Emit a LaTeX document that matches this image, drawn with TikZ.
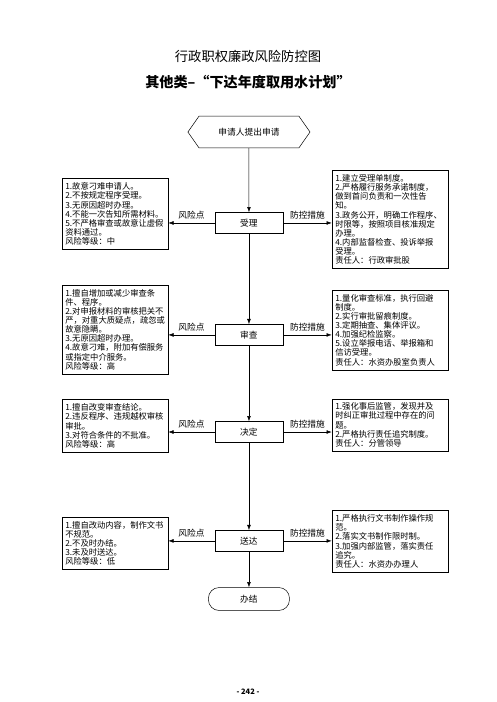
\documentclass[tikz,border=0pt]{standalone}
\usepackage{fontspec}
\setmainfont{Noto Sans CJK SC}
\usetikzlibrary{arrows.meta,shapes.symbols}
\tikzset{
  stepbox/.style={draw, line width=.6pt, minimum width=2.88cm, minimum height=.89cm,
    font=\fontsize{10.5}{12}\selectfont},
  riskbox/.style={draw, line width=.6pt, text width=4.21cm, inner xsep=.14cm, inner ysep=.17cm,
    align=left, font=\fontsize{10}{11}\selectfont},
  ctrlbox/.style={riskbox, text width=4.63cm},
  startbox/.style={draw, line width=.6pt, shape=signal, signal to=west and east,
    signal pointer angle=110, minimum width=5.17cm, minimum height=1.35cm,
    font=\fontsize{10.5}{12}\selectfont},
  endbox/.style={draw, line width=.6pt, rounded corners=.45cm, minimum width=3.43cm,
    minimum height=.97cm, font=\fontsize{10.5}{12}\selectfont},
  arr/.style={-{Latex[length=2.2mm,width=1.6mm]}, line width=.6pt},
  lbl/.style={font=\fontsize{10.5}{12}\selectfont, above=1pt}
}

\begin{document}
\begin{tikzpicture}[x=1cm,y=1cm]
  \useasboundingbox (0,0) rectangle (21,29.72);
  \node[font=\fontsize{16}{18}\selectfont] (t1) at (10.5,27.31) {行政职权廉政风险防控图};
  \node[font=\fontsize{17}{19}\selectfont\bfseries] (t2) at (10.5,26.25) {其他类–“下达年度取用水计划”};

  % main flow
  \node[startbox] (s0) at (10.54,24.13) {申请人提出申请};
  \node[stepbox] (s1) at (10.54,20.28) {受理};
  \node[stepbox] (s2) at (10.54,15.54) {审查};
  \node[stepbox] (s3) at (10.54,11.43) {决定};
  \node[stepbox] (s4) at (10.54,6.82) {送达};
  \node[endbox] (s5) at (10.54,4.36) {办结};
  \draw[arr] (s0)--(s1); \draw[arr] (s1)--(s2); \draw[arr] (s2)--(s3);
  \draw[arr] (s3)--(s4); \draw[arr] (s4)--(s5);

  % risks and measures
  \node[riskbox] (r1) at (4.87,20.66) {1.故意刁难申请人。\\2.不按规定程序受理。\\3.无原因超时办理。\\4.不能一次告知所需材料。\\5.不严格审查或故意让虚假\\资料通过。\\风险等级：中};
  \node[ctrlbox] (c1) at (16.51,20.43) {1.建立受理单制度。\\2.严格履行服务承诺制度，\\做到首问负责和一次性告\\知。\\3.政务公开，明确工作程序、\\时限等，按照项目核准规定\\办理。\\4.内部监督检查、投诉举报\\受理。\\责任人：行政审批股};
  \draw[arr] (s1.west)--node[lbl]{风险点}(s1.west -| r1.east);
  \draw[arr] (s1.east)--node[lbl]{防控措施}(s1.east -| c1.west);

  \node[riskbox] (r2) at (4.87,15.77) {1.擅自增加或减少审查条\\件、程序。\\2.对申报材料的审核把关不\\严，对重大质疑点，疏忽或\\故意隐瞒。\\3.无原因超时办理。\\4.故意刁难，附加有偿服务\\或指定中介服务。\\风险等级：高};
  \node[ctrlbox] (c2) at (16.51,15.75) {1.量化审查标准，执行回避\\制度。\\2.实行审批留痕制度。\\3.定期抽查、集体评议。\\4.加强纪检监察。\\5.设立举报电话、举报箱和\\信访受理。\\责任人：水资办股室负责人};
  \draw[arr] (s2.west)--node[lbl]{风险点}(s2.west -| r2.east);
  \draw[arr] (s2.east)--node[lbl]{防控措施}(s2.east -| c2.west);

  \node[riskbox] (r3) at (4.87,11.69) {1.擅自改变审查结论。\\2.违反程序、违规越权审核\\审批。\\3.对符合条件的不批准。\\风险等级：高};
  \node[ctrlbox] (c3) at (16.51,11.73) {1.强化事后监管，发现并及\\时纠正审批过程中存在的问\\题。\\2.严格执行责任追究制度。\\责任人：分管领导};
  \draw[arr] (s3.west)--node[lbl]{风险点}(s3.west -| r3.east);
  \draw[arr] (s3.east)--node[lbl]{防控措施}(s3.east -| c3.west);

  \node[riskbox] (r4) at (4.87,6.71) {1.擅自改动内容，制作文书\\不规范。\\2.不及时办结。\\3.未及时送达。\\风险等级：低};
  \node[ctrlbox] (c4) at (16.51,6.80) {1.严格执行文书制作操作规\\范。\\2.落实文书制作限时制。\\3.加强内部监管，落实责任\\追究。\\责任人：水资办办理人};
  \draw[arr] (s4.west)--node[lbl]{风险点}(s4.west -| r4.east);
  \draw[arr] (s4.east)--node[lbl]{防控措施}(s4.east -| c4.west);

  \node[font=\fontsize{9}{10}\selectfont\bfseries] (pg) at (10.5,0.45) {- 242 -};
\end{tikzpicture}
\end{document}
